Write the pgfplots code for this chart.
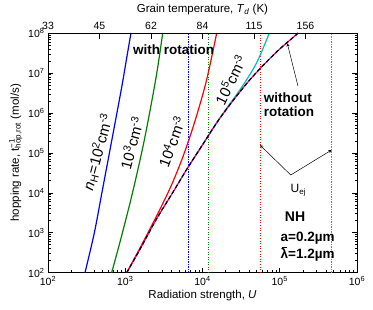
\documentclass[border=0pt]{standalone}
\usepackage{fontspec}
\setmainfont{Liberation Sans}
\usepackage{pgfplots}
\pgfplotsset{compat=1.18}
\definecolor{dgreen}{RGB}{0,128,0}
\definecolor{mycyan}{RGB}{0,190,190}
\newcommand{\lambar}{\ooalign{λ\cr\hidewidth\raisebox{0.78em}{\rule{0.42em}{0.075em}}\hidewidth}}
\begin{document}
\begin{tikzpicture}
\begin{axis}[at={(0,0)}, anchor=south west, scale only axis, width=309pt, height=239.7pt,
 xmode=log, ymode=log, xmin=100, xmax=1e6, ymin=100, ymax=1e8,
 xtick={100,1000,10000,100000,1000000},
 xticklabels={10\textsuperscript{2},10\textsuperscript{3},10\textsuperscript{4},10\textsuperscript{5},10\textsuperscript{6}},
 ytick={1e2,1e3,1e4,1e5,1e6,1e7,1e8},
 yticklabels={10\textsuperscript{2},10\textsuperscript{3},10\textsuperscript{4},10\textsuperscript{5},10\textsuperscript{6},10\textsuperscript{7},10\textsuperscript{8}},
 xtick pos=left, ytick pos=both, tick align=inside,
 major tick length=5pt, minor tick length=2.5pt,
 axis line style={line width=0.9pt},
 tick style={black, line width=0.6pt},
 tick label style={font=\fontsize{10.5}{12}\selectfont},
 label style={font=\fontsize{11.5}{13.5}\selectfont},
 xlabel={Radiation strength, \textit{U}},
 ylabel={hopping rate, t\rlap{\textsuperscript{−1}}\textsubscript{hop,rot} (mol/s)},
 xlabel style={yshift=2pt},
 ylabel style={yshift=-1pt},
]
% vertical U_ej lines
\addplot[blue, line width=0.6pt, dash pattern=on 2pt off 1.2pt on 0.6pt off 1.2pt] coordinates {(6546,100) (6546,1e8)};
\addplot[dgreen, line width=0.6pt, dash pattern=on 1pt off 1.5pt] coordinates {(12050,100) (12050,1e8)};
\addplot[red, line width=0.55pt, dash pattern=on 1pt off 1.6pt] coordinates {(56600,100) (56600,1e8)};
\addplot[mycyan, line width=0.6pt, dash pattern=on 2pt off 1.2pt on 0.6pt off 1.2pt] coordinates {(471000,100) (471000,1e8)};
% n_H = 1e2
\addplot[blue, line width=1.2pt, smooth] coordinates {(301.3,100) (398.1,1000) (501.2,1.059e4) (631,1.122e5) (891.3,3.981e6) (1047,2.455e7) (1186,1e8)};
% n_H = 1e3
\addplot[dgreen, line width=1.2pt, smooth] coordinates {(666.8,100) (891.3,794.3) (1259,1.122e4) (1778,2.239e5) (2512,7.943e6) (3055,1e8)};
% n_H = 1e4
\addplot[red, line width=1.2pt, smooth] coordinates {(1045,100) (1413,295.1) (1995,1047) (2818,3890) (3981,15850) (5623,83180) (7943,6.026e5) (11220,6.31e6) (15280,1e8)};
% n_H = 1e5
\addplot[mycyan, line width=1.2pt, smooth] coordinates {(6310,39810) (10000,1.585e5) (12590,3.162e5) (19950,1.202e6) (31620,4.169e6) (50120,1.778e7) (73280,1e8)};
% without rotation
\addplot[magenta, line width=1.2pt, smooth] coordinates {(1045,100) (1585,416.9) (2512,2138) (3981,9120) (6310,39810) (10000,1.585e5) (15850,6.31e5) (25120,2.089e6) (39810,6.31e6) (63100,1.66e7) (100000,3.981e7) (173800,1e8)};
\addplot[black, line width=1.2pt, smooth, dash pattern=on 4pt off 2.5pt] coordinates {(1045,100) (1585,416.9) (2512,2138) (3981,9120) (6310,39810) (10000,1.585e5) (15850,6.31e5) (25120,2.089e6) (39810,6.31e6) (63100,1.66e7) (100000,3.981e7) (173800,1e8)};
% labels
\node[rotate=75, font=\fontsize{15}{17}\selectfont] at (axis cs:443.6,1.05e5) {\textit{n}\textsubscript{H}=10\textsuperscript{2}cm\textsuperscript{-3}};
\node[rotate=75, font=\fontsize{15}{17}\selectfont] at (axis cs:1205,1.77e5) {10\textsuperscript{3}cm\textsuperscript{-3}};
\node[rotate=70, font=\fontsize{15}{17}\selectfont] at (axis cs:3990,1.9e5) {10\textsuperscript{4}cm\textsuperscript{-3}};
\node[rotate=64, font=\fontsize{15}{17}\selectfont] at (axis cs:23000,6.8e6) {10\textsuperscript{5}cm\textsuperscript{-3}};
\node[font=\bfseries\fontsize{13.5}{15}\selectfont] at (axis cs:4220,3.76e7) {with rotation};
\node[font=\bfseries\fontsize{13.5}{14.5}\selectfont, align=left] at (axis cs:1.32e5,1.6e6) {without\\rotation};
\draw[-stealth, line width=0.5pt] (axis cs:1.72e5,4.71e6) -- (axis cs:1.253e5,5.52e7);
\draw[-stealth, line width=0.5pt] (axis cs:1.387e5,2.79e4) -- (axis cs:5.55e4,1.57e5);
\draw[-stealth, line width=0.5pt] (axis cs:1.387e5,2.79e4) -- (axis cs:4.7e5,1.18e5);
\node[font=\fontsize{12}{14}\selectfont] at (axis cs:1.74e5,1.17e4) {U\textsubscript{ej}};
\node[font=\bfseries\fontsize{14}{16}\selectfont] at (axis cs:1.58e5,2520) {NH};
\node[font=\bfseries\fontsize{13.5}{15}\selectfont, anchor=west, inner sep=0pt] at (axis cs:1.02e5,726) {a=0.2µm};
\node[font=\bfseries\fontsize{13.5}{15}\selectfont, anchor=west, inner sep=0pt] at (axis cs:1.02e5,277) {\lambar=1.2µm};
\end{axis}
\begin{axis}[at={(0,0)}, anchor=south west, scale only axis, width=309pt, height=239.7pt,
 xmode=log, ymode=log, xmin=100, xmax=1e6, ymin=100, ymax=1e8,
 axis x line*=top, axis y line=none,
 axis line style={line width=0.9pt},
 xtick={100,464.159,2154.43,10000,46415.9,215443},
 xticklabels={33,45,62,84,115,156},
 minor xtick={}, xminorticks=false,
 tick align=inside, major tick length=6pt,
 tick style={black, line width=0.6pt},
 tick label style={font=\fontsize{10.5}{12}\selectfont},
 label style={font=\fontsize{11.5}{13.5}\selectfont},
 xlabel={Grain temperature, \textit{T}\textsubscript{\textit{d}} (K)},
]
\addplot[draw=none] coordinates {(1000,1000)};
\end{axis}
\pgfresetboundingbox
\path[use as bounding box] (-48pt,-36.3pt) rectangle (325pt,272.7pt);
\end{tikzpicture}
\end{document}
